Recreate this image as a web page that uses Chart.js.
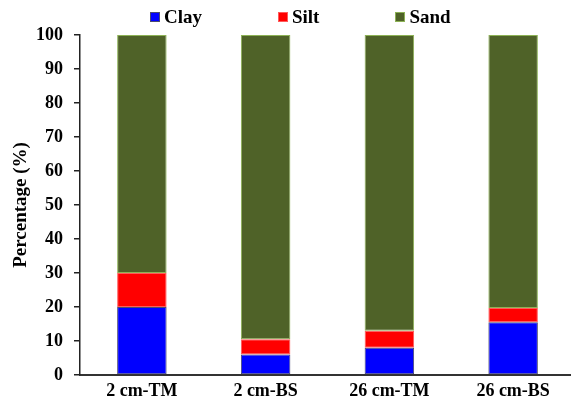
<!DOCTYPE html>
<html>
<head>
<meta charset="utf-8">
<script src="https://cdn.jsdelivr.net/npm/chart.js@4.4.1/dist/chart.umd.min.js"></script>
<style>
  html, body { margin: 0; padding: 0; background: #fff; }
  #wrap { position: relative; width: 571px; height: 408px; overflow: hidden; }
  #box { position: absolute; left: 0; top: 0; width: 575px; height: 408px; }
  #legend { position: absolute; left: 150px; top: 6px; display: flex; align-items: center; gap: 76px;
            font: bold 19px "Liberation Serif", "Times New Roman", serif; color: #000; line-height: 22px; }
  .item { display: flex; align-items: center; gap: 4px; }
  .sw { width: 10px; height: 10px; box-sizing: border-box; border: 1px solid; }
</style>
</head>
<body>
<div id="wrap">
  <div id="box"><canvas id="c"></canvas></div>
  <div id="legend"></div>
</div>
<script>
const categories = ["2 cm-TM", "2 cm-BS", "26 cm-TM", "26 cm-BS"];
const seriesNames = ["Clay", "Silt", "Sand"];
const clay = [20, 6, 8, 15.5];
const silt = [10, 4.5, 5, 4.2];
const sand = [70, 89.5, 87, 80.3];
const yTicks = [0, 10, 20, 30, 40, 50, 60, 70, 80, 90, 100];

const fills = ["#0000FF", "#FF0000", "#4F6228"];
const borders = ["#4a4a70", "#ff5a5a", "#8DB255"];
const values = [clay, silt, sand];

const legend = document.getElementById('legend');
seriesNames.forEach((n, i) => {
  const it = document.createElement('div');
  it.className = 'item';
  const sw = document.createElement('span');
  sw.className = 'sw';
  sw.style.background = fills[i];
  sw.style.borderColor = borders[i];
  const t = document.createElement('span');
  t.textContent = n;
  it.appendChild(sw); it.appendChild(t);
  legend.appendChild(it);
});

const font = "'Liberation Serif', 'Times New Roman', serif";
new Chart(document.getElementById('c'), {
  type: 'bar',
  data: {
    labels: categories,
    datasets: seriesNames.map((n, i) => ({
      label: n,
      data: values[i],
      backgroundColor: fills[i],
      borderColor: borders[i],
      borderWidth: 1,
      borderSkipped: false,
      barPercentage: 0.8,
      categoryPercentage: 0.5
    }))
  },
  options: {
    responsive: true,
    maintainAspectRatio: false,
    animation: false,
    layout: { padding: { top: 35, right: 0, bottom: 0, left: 0 } },
    plugins: { legend: { display: false }, tooltip: { enabled: false } },
    scales: {
      x: {
        stacked: true,
        offset: true,
        grid: { display: false, drawTicks: false },
        border: { display: true, color: '#333', width: 2 },
        ticks: { color: '#000', padding: 6, font: { family: font, size: 18, weight: 'bold' }, maxRotation: 0 },
        afterFit: s => { s.height = 33; }
      },
      y: {
        stacked: true,
        min: 0, max: 100,
        afterBuildTicks: s => { s.ticks = yTicks.map(v => ({ value: v })); },
        grid: { drawOnChartArea: false, drawTicks: true, tickLength: 6, color: '#222', lineWidth: 1.5 },
        border: { display: true, color: '#222', width: 1.5 },
        ticks: { color: '#000', padding: 11, font: { family: font, size: 18, weight: 'bold' } },
        title: { display: true, text: 'Percentage (%)', color: '#000', padding: { top: 10, bottom: 0 },
                 font: { family: font, size: 19, weight: 'bold' } },
        afterFit: s => { s.width = 80; }
      }
    }
  }
});
</script>
</body>
</html>
